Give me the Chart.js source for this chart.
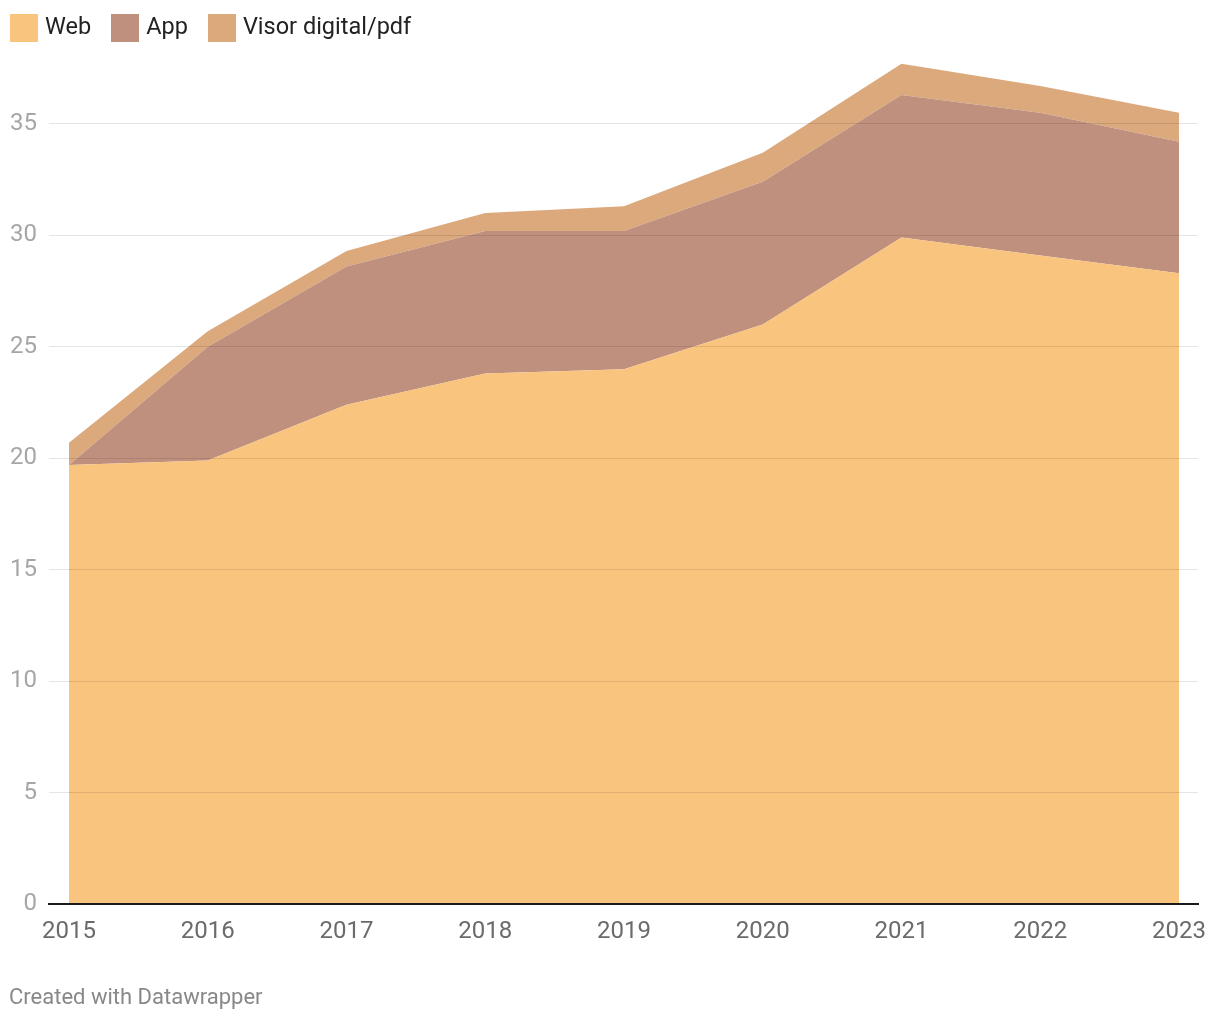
<!DOCTYPE html>
<html>
<head>
<meta charset="utf-8">
<script src="https://cdn.jsdelivr.net/npm/chart.js@4"></script>
<style>
  body { margin: 0; background: #fff; font-family: Roboto, sans-serif; }
  #wrap { position: relative; width: 1220px; height: 1020px; }
  #legend { position: absolute; left: 10px; top: 14px; display: flex; align-items: center; }
  .item { display: flex; align-items: center; margin-right: 20px; font-size: 23.5px; color: #222; line-height: 28px; }
  .item span.txt { position: relative; top: -2px; }
  .box { width: 28px; height: 28px; margin-right: 7px; }
  #footer { position: absolute; left: 9px; top: 984px; font-size: 22px; color: #888; }
</style>
</head>
<body>
<div id="wrap">
  <canvas id="areaChart" width="1220" height="1020"></canvas>
  <div id="legend"></div>
  <div id="footer">Created with Datawrapper</div>
</div>
<script>
// Datos
const years = [2015, 2016, 2017, 2018, 2019, 2020, 2021, 2022, 2023];
const webData = [19.7, 19.9, 22.4, 23.8, 24.0, 26.0, 29.9, 29.1, 28.3];
const appData = [0.0, 5.1, 6.2, 6.4, 6.2, 6.4, 6.4, 6.4, 5.9];
const visorData = [1.0, 0.7, 0.7, 0.8, 1.1, 1.3, 1.4, 1.2, 1.3];
const seriesLabels = ['Web', 'App', 'Visor digital/pdf'];
const seriesColors = ['#f9c47e', '#c0907e', '#dca97d'];
const yTicks = [0, 5, 10, 15, 20, 25, 30, 35];

document.addEventListener('DOMContentLoaded', function() {
    const series = [webData, appData, visorData];

    // Leyenda HTML
    const legend = document.getElementById('legend');
    seriesLabels.forEach(function(label, i) {
        const item = document.createElement('div');
        item.className = 'item';
        item.innerHTML = '<span class="box" style="background:' + seriesColors[i] + '"></span><span class="txt">' + label + '</span>';
        legend.appendChild(item);
    });

    const ctx = document.getElementById('areaChart').getContext('2d');
    new Chart(ctx, {
        type: 'line',
        data: {
            datasets: series.map(function(values, i) {
                return {
                    label: seriesLabels[i],
                    data: values.map(function(v, j) { return { x: years[j], y: v }; }),
                    backgroundColor: seriesColors[i],
                    borderWidth: 0,
                    pointRadius: 0,
                    fill: i === 0 ? 'origin' : '-1',
                    tension: 0
                };
            })
        },
        options: {
            responsive: false,
            animation: false,
            layout: {
                padding: { left: 0, right: 22, top: 57, bottom: 69 }
            },
            scales: {
                x: {
                    type: 'linear',
                    min: 2014.856,
                    max: 2023.137,
                    z: 2,
                    grid: { display: false },
                    border: { color: '#1a1a1a', width: 2, z: 2 },
                    afterBuildTicks: function(scale) {
                        scale.ticks = years.map(function(y) { return { value: y }; });
                    },
                    ticks: {
                        padding: 5,
                        color: '#6b6b6b',
                        font: { family: 'Roboto', size: 24 },
                        maxRotation: 0,
                        autoSkip: false,
                        callback: function(v) { return String(v); }
                    }
                },
                y: {
                    stacked: true,
                    min: 0,
                    max: 38,
                    z: 1,
                    afterFit: function(scale) { scale.width = 49; },
                    afterBuildTicks: function(scale) {
                        scale.ticks = yTicks.map(function(v) { return { value: v }; });
                    },
                    grid: {
                        color: 'rgba(0, 0, 0, 0.1)',
                        lineWidth: 1,
                        drawTicks: false,
                        z: 1
                    },
                    border: { display: false },
                    ticks: {
                        padding: 12,
                        color: '#a6a6a6',
                        font: { family: 'Roboto', size: 24 }
                    }
                }
            },
            plugins: {
                legend: { display: false },
                tooltip: { enabled: false }
            }
        }
    });
});
</script>
</body>
</html>
